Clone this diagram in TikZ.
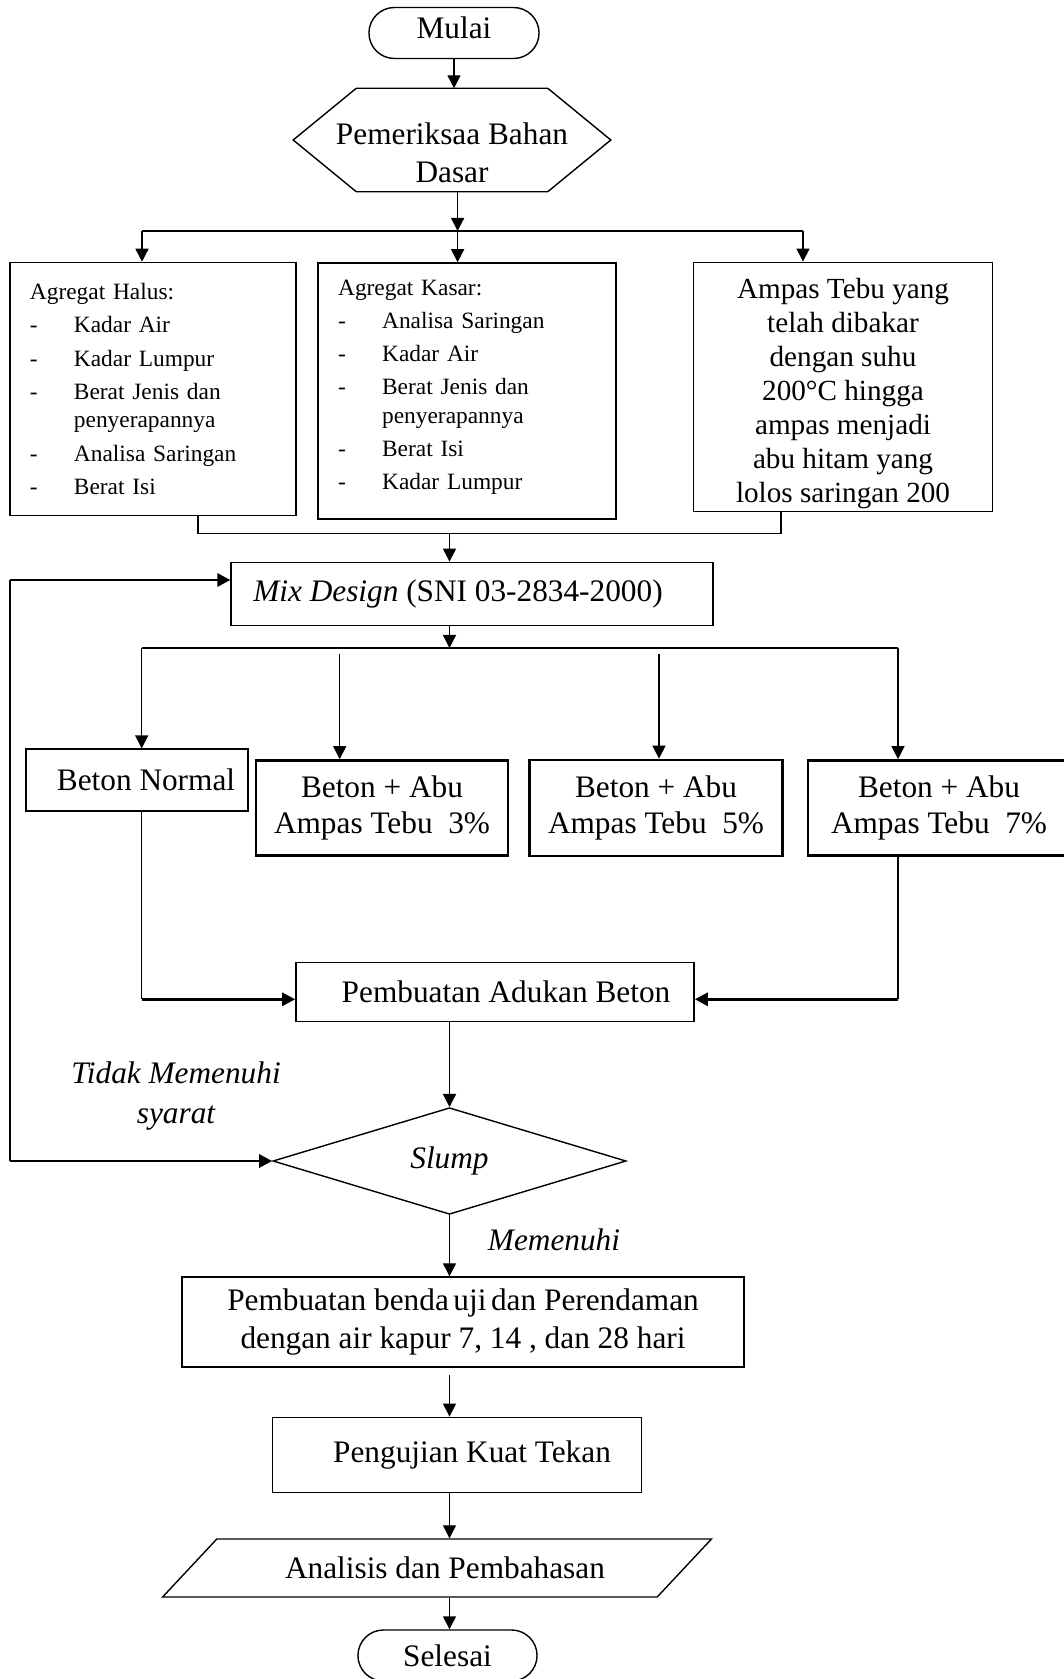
\documentclass[tikz,border=0pt]{standalone}
\usepackage{fontspec}
\setmainfont{Liberation Serif}
\usetikzlibrary{arrows.meta,shapes.geometric,shapes.misc}
\newcommand{\itm}{\makebox[0.44cm][l]{-}}

\begin{document}
\begin{tikzpicture}[x=0.01cm,y=-0.01cm,
    font=\fontsize{8.9}{10.7}\selectfont,
    >={Triangle[length=1.3mm,width=1.3mm]},
    box/.style={draw,rectangle,inner sep=0pt},
    thickbox/.style={box,line width=0.75pt},
    term/.style={draw,rounded rectangle,inner sep=0pt,minimum height=0.51cm},
    dec/.style={draw,diamond,inner sep=0pt,minimum width=3.53cm,minimum height=1.02cm},
    io/.style={draw,trapezium,trapezium left angle=28,trapezium right angle=152,
               trapezium stretches=true,inner sep=0pt,minimum width=5.49cm,minimum height=0.58cm},
    listbox/.style={box,inner xsep=0.2cm,align=left,font=\fontsize{6.65}{9.4}\selectfont},
    fat/.style={line width=0.8pt}]
      \useasboundingbox (0,0) rectangle (1063,1679);

      \node[term,minimum width=1.70cm] (mulai)  at (454,33)    {\raisebox{0.11cm}{Mulai}};
      \node[inner sep=0pt,minimum width=3.16cm,minimum height=1.02cm] (bahan) at (452,140) {};
      \node[align=center]              (bahanT) at (452,153)   {Pemeriksaa Bahan\\Dasar};
      \draw (bahan.west) -- ([xshift=0.63cm]bahan.north west) -- ([xshift=-0.63cm]bahan.north east)
            -- (bahan.east) -- ([xshift=-0.63cm]bahan.south east) -- ([xshift=0.63cm]bahan.south west) -- cycle;

      \node[listbox,text width=2.46cm,minimum height=2.53cm]  (halus) at (153,389) {Agregat Halus:\\
        \itm Kadar Air\\
        \itm Kadar Lumpur\\
        \itm Berat Jenis dan\\[-1.2pt]
        \hspace*{0.44cm}penyerapannya\\
        \itm Analisa Saringan\\
        \itm Berat Isi};
      \node[listbox,text width=2.576cm,minimum height=2.56cm] (kasar) at (467,391) {Agregat Kasar:\\
        \itm Analisa Saringan\\
        \itm Kadar Air\\
        \itm Berat Jenis dan\\[-1.2pt]
        \hspace*{0.44cm}penyerapannya\\
        \itm Berat Isi\\
        \itm Kadar Lumpur\rule[-0.12cm]{0pt}{0pt}};
      \node[box,align=center,minimum width=2.984cm,minimum height=2.493cm,
            font=\fontsize{8.3}{9.7}\selectfont] (ampas) at (843,387)
            {\rule{0pt}{0.33cm}Ampas Tebu yang\\telah dibakar\\dengan suhu\\200°C hingga\\ampas menjadi\\abu hitam yang\\lolos saringan 200};

      \node[box,minimum width=4.815cm,minimum height=0.633cm] (mix) at (472,594)
            {\textit{Mix Design} (SNI 03-2834-2000)\hspace*{0.28cm}};

      \node[box,minimum width=2.22cm,minimum height=0.617cm] (normal) at (137,780) {\hspace*{0.18cm}Beton Normal};
      \node[thickbox,align=center,minimum width=2.52cm,minimum height=0.95cm,
            font=\fontsize{8.9}{10}\selectfont] (abu3) at (382,808) {Beton + Abu\\Ampas Tebu~ 3\%};
      \node[thickbox,align=center,minimum width=2.53cm,minimum height=0.96cm,
            font=\fontsize{8.9}{10}\selectfont] (abu5) at (656,808) {Beton + Abu\\Ampas Tebu~ 5\%};
      \node[thickbox,align=center,minimum width=2.62cm,minimum height=0.95cm,
            font=\fontsize{8.9}{10}\selectfont] (abu7) at (939,808) {Beton + Abu\\Ampas Tebu~ 7\%};

      \node[box,minimum width=3.98cm,minimum height=0.59cm] (adukan) at (495,992) {\hspace*{0.22cm}Pembuatan Adukan Beton};
      \node[dec] (slump) at (449.5,1161) {\textit{Slump}};
      \node[align=center,font=\itshape\fontsize{8.9}{11.1}\selectfont] (tidak) at (176,1096) {Tidak Memenuhi\\syarat};
      \node[font=\itshape\fontsize{8.9}{10.7}\selectfont] (memenuhi) at (554,1240) {Memenuhi};

      \node[box,align=center,minimum width=5.613cm,minimum height=0.9cm] (benda) at (463,1322)
            {Pembuatan benda\hspace{1.3pt}uji\hspace{1.3pt}dan Perendaman\\dengan air kapur 7, 14 , dan 28 hari};
      \node[box,minimum width=3.69cm,minimum height=0.754cm] (uji) at (457,1455) {\hspace*{0.3cm}Pengujian Kuat Tekan};
      \node[io] (analisis) at (437,1568) {\hspace*{0.16cm}Analisis dan Pembahasan};
      \node[term,minimum width=1.79cm] (selesai) at (447.5,1655.5) {Selesai};

      \coordinate (bar1L) at (142,231);
      \coordinate (bar1M) at (457.6,231);
      \coordinate (bar1R) at (803,231);
      \coordinate (join1) at (449.5,533.3);
      \coordinate (join2) at (449.5,648);
      \coordinate (bar2L) at (141.7,648);
      \coordinate (bar2R) at (898,648);
      \coordinate (gap3)  at (339.7,654);
      \coordinate (gap5)  at (659,654);
      \coordinate (in1)   at (141.7,999.3);
      \coordinate (in2)   at (898,999.3);
      \coordinate (fb1)   at (10,1161);
      \coordinate (fb2)   at (10,580);
      \coordinate (gap6)  at (449.5,1375);

      \draw[->] (mulai.south) -- (mulai.south |- bahan.north);
      \draw[->] (bar1M |- bahan.south) -- (bar1M);
      \draw (bar1L) -- (bar1R);
      \draw[->] (bar1L) -- (bar1L |- halus.north);
      \draw[->] (bar1M) -- (bar1M |- kasar.north);
      \draw[->] (bar1R) -- (bar1R |- ampas.north);

      \draw ([xshift=0.45cm]halus.south) |- (join1) -| ([xshift=-0.618cm]ampas.south);
      \draw[->] (join1) -- (join1 |- mix.north);

      \draw[->] (join2 |- mix.south) -- (join2);
      \draw (bar2L) -- (bar2R);
      \draw[->] (bar2L) -- (bar2L |- normal.north);
      \draw[->] (gap3)  -- (gap3 |- abu3.north);
      \draw[->] (gap5)  -- (gap5 |- abu5.north);
      \draw[->] (bar2R) -- (bar2R |- abu7.north);

      \draw (bar2L |- normal.south) -- (in1);
      \draw[fat,->] (in1) -- (in1 -| adukan.west);
      \draw (bar2R |- abu7.south) -- (in2);
      \draw[fat,->] (in2) -- (in2 -| adukan.east);

      \draw[->] (slump.north |- adukan.south) -- (slump.north);
      \draw[fat,->] (fb1) -- (slump.west);
      \draw (fb1) -- (fb2);
      \draw[fat,->] (fb2) -- (fb2 -| mix.west);

      \draw[->] (slump.south) -- (slump.south |- benda.north);
      \draw[->] (gap6) -- (gap6 |- uji.north);
      \draw[->] (slump.south |- uji.south) -- (slump.south |- analisis.north);
      \draw[->] (slump.south |- analisis.south) -- (slump.south |- selesai.north);
    \end{tikzpicture}
\end{document}
